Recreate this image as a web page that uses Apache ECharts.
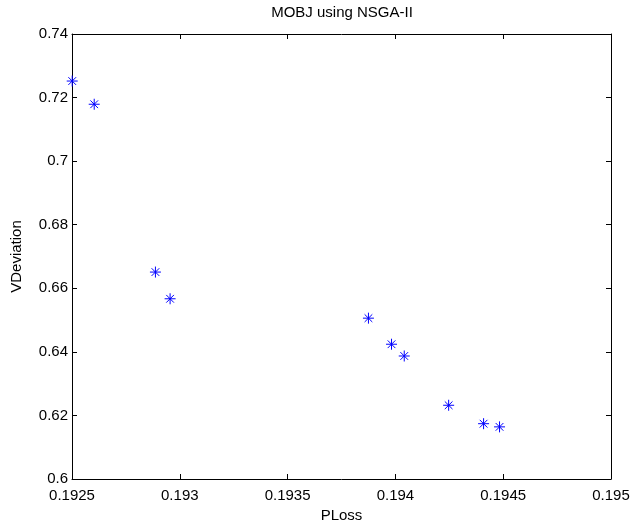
<!DOCTYPE html>
<html>
<head>
<meta charset="utf-8">
<script src="https://cdn.jsdelivr.net/npm/echarts@6/dist/echarts.min.js"></script>
<style>html,body{margin:0;padding:0;background:#fff;}#c{width:631px;height:529px;}</style>
</head>
<body>
<div id="c"></div>
<script>
var pLoss = [0.192501, 0.192603, 0.192887, 0.192955, 0.193875, 0.193982, 0.194041, 0.194247, 0.194409, 0.194483];
var vDeviation = [0.7252, 0.7179, 0.6651, 0.6567, 0.6506, 0.6424, 0.6387, 0.6232, 0.6174, 0.6164];
var xTickLabels = ['0.1925', '0.193', '0.1935', '0.194', '0.1945', '0.195'];
var yTickLabels = ['0.6', '0.62', '0.64', '0.66', '0.68', '0.7', '0.72', '0.74'];

function lookup(labels, v) {
  var best = labels[0], bd = Infinity;
  for (var i = 0; i < labels.length; i++) {
    var d = Math.abs(parseFloat(labels[i]) - v);
    if (d < bd) { bd = d; best = labels[i]; }
  }
  return best;
}

var points = pLoss.map(function (x, i) { return [x, vDeviation[i]]; });
var font = '"Liberation Sans", Arial, sans-serif';
var star = 'path://M0,5L10,5M5,0L5,10M1.5,1.5L8.5,8.5M8.5,1.5L1.5,8.5';

var lineStyle = { color: '#000', width: 1 };
var tickStyle = { show: true, inside: true, length: 5, lineStyle: { color: '#000', width: 1 } };

var chart = echarts.init(document.getElementById('c'));
chart.setOption({
  animation: false,
  backgroundColor: '#fff',
  title: {
    text: 'MOBJ using NSGA-II',
    left: 342, top: 5, padding: 0, textAlign: 'center',
    textStyle: { fontFamily: font, fontSize: 15, fontWeight: 'normal', color: '#000' }
  },
  grid: { left: 72, right: 20, top: 34, bottom: 50, containLabel: false, outerBoundsMode: 'none' },
  xAxis: [{
    type: 'value', min: 0.1925, max: 0.195, interval: 0.0005, position: 'bottom',
    name: 'PLoss', nameLocation: 'middle', nameGap: 26,
    nameTextStyle: { fontFamily: font, fontSize: 15, color: '#000' },
    axisLine: { show: true, lineStyle: lineStyle },
    axisTick: tickStyle,
    splitLine: { show: false },
    axisLabel: { fontFamily: font, fontSize: 15, color: '#000', margin: 9,
      formatter: function (v) { return lookup(xTickLabels, v); } }
  }, {
    type: 'value', min: 0.1925, max: 0.195, interval: 0.0005, position: 'top',
    axisLine: { show: true, lineStyle: lineStyle },
    axisTick: tickStyle, axisLabel: { show: false }, splitLine: { show: false }
  }],
  yAxis: [{
    type: 'value', min: 0.6, max: 0.74, interval: 0.02, position: 'left',
    name: 'VDeviation', nameLocation: 'middle', nameGap: 48, nameRotate: 90,
    nameTextStyle: { fontFamily: font, fontSize: 15, color: '#000' },
    axisLine: { show: true, lineStyle: lineStyle },
    axisTick: tickStyle,
    splitLine: { show: false },
    axisLabel: { fontFamily: font, fontSize: 15, color: '#000', margin: 4,
      formatter: function (v) { return lookup(yTickLabels, v); } }
  }, {
    type: 'value', min: 0.6, max: 0.74, interval: 0.02, position: 'right',
    axisLine: { show: true, lineStyle: lineStyle },
    axisTick: tickStyle, axisLabel: { show: false }, splitLine: { show: false }
  }],
  series: [{
    type: 'scatter',
    data: points,
    symbol: star,
    symbolSize: 11,
    itemStyle: { color: 'rgba(0,0,0,0)', borderColor: '#0000ff', borderWidth: 1, opacity: 1 },
    clip: false
  }]
});
</script>
</body>
</html>
